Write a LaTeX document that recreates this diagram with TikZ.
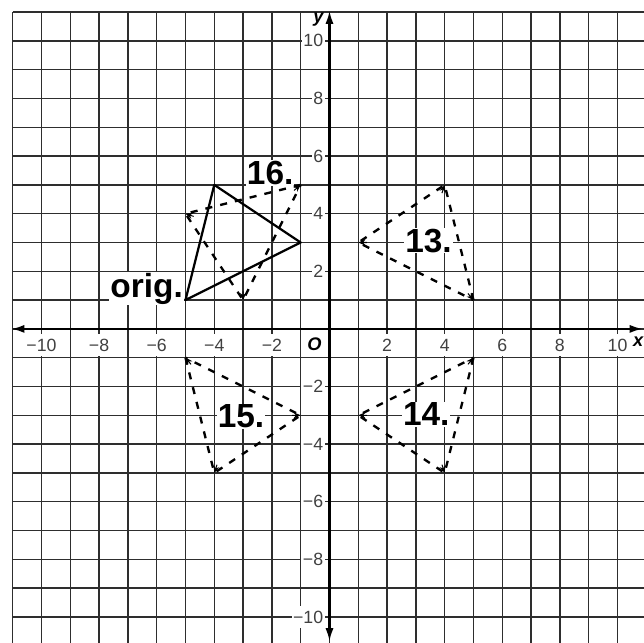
\documentclass[tikz,border=0pt]{standalone}
\usepackage{fontspec}
\setmainfont{Liberation Sans}
\usetikzlibrary{arrows.meta,calc}
\begin{document}
\begin{tikzpicture}[
  gridline/.style={line width=1.3pt, black!82},
  axisline/.style={line width=2.2pt, {Latex[length=13pt,width=8pt]}-{Latex[length=13pt,width=8pt]}},
  origtri/.style={line width=2.2pt, line join=round},
  imgtri/.style={line width=2.3pt, dash pattern=on 7pt off 8pt},
  vtip/.style={-{Stealth[length=7pt,width=6pt]}, line width=1pt},
  ticklab/.style={fill=white, text=black!75, font=\fontsize{17.5}{18}\selectfont, inner xsep=1.5pt, inner ysep=4.8pt},
  bigl/.style={fill=white, font=\fontsize{33}{33}\selectfont\bfseries, inner sep=1pt},
  axl/.style={font=\fontsize{18}{18}\selectfont\bfseries\itshape, inner sep=1pt}
]
\useasboundingbox (-11.44,-10.90) rectangle (10.92,11.42);
\clip (-11.44,-10.90) rectangle (10.92,11.42);
\draw[gridline] (-11,-11) grid (11,11);

% tick labels
\foreach \v/\t in {-10/−10,-8/−8,-6/−6,-4/−4,-2/−2,2/2,4/4,6/6,8/8,10/10} {
  \node[ticklab] (xt\v) at (\v,-0.57) {\t};
  \node[ticklab, anchor=east] (yt\v) at (-0.16,\v) {\t};
}
\node[axl, fill=white, inner sep=4pt] (lO) at (-0.52,-0.54) {O};
\node[axl] (lx) at (10.72,-0.45) {x};
\node[axl] (ly) at (-0.38,10.73) {y};

% axes
\coordinate (xl) at (-11.05,0);
\coordinate (xr) at (10.88,0);
\coordinate (yb) at (0,-10.85);
\coordinate (yt) at (0,11.05);
\draw[axisline] (xl) -- (xr);
\draw[axisline] (yb) -- (yt);

% labels of the triangles
\node[bigl, anchor=base east] (lorig) at (-5.05,1.1) {orig.};
\node[bigl, anchor=base] (l16) at (-2.06,5.02) {16.};
\node[bigl, anchor=base] (l13) at (3.44,2.67) {13.};
\node[bigl, anchor=base] (l14) at (3.36,-3.37) {14.};
\node[bigl, anchor=base] (l15) at (-3.07,-3.44) {15.};

% original
\coordinate (oA) at (-5,1);
\coordinate (oB) at (-4,5);
\coordinate (oC) at (-1,3);
\draw[origtri] (oA) -- (oB) -- (oC) -- cycle;

% images
\coordinate (aA) at (5,1);  \coordinate (aB) at (4,5);  \coordinate (aC) at (1,3);
\coordinate (bA) at (5,-1); \coordinate (bB) at (4,-5); \coordinate (bC) at (1,-3);
\coordinate (cA) at (-5,-1);\coordinate (cB) at (-4,-5);\coordinate (cC) at (-1,-3);
\coordinate (dA) at (-1,5); \coordinate (dB) at (-5,4); \coordinate (dC) at (-3,1);
\foreach \t in {a,b,c,d} {
  \draw[imgtri] (\t A) -- (\t B) -- (\t C) -- cycle;
  \coordinate (\t G) at ($1/3*(\t A)+1/3*(\t B)+1/3*(\t C)$);
  \foreach \v in {A,B,C} {
    \draw[vtip] ($(\t\v)!0.3cm!(\t G)$) -- (\t\v);
  }
}
\end{tikzpicture}
\end{document}
